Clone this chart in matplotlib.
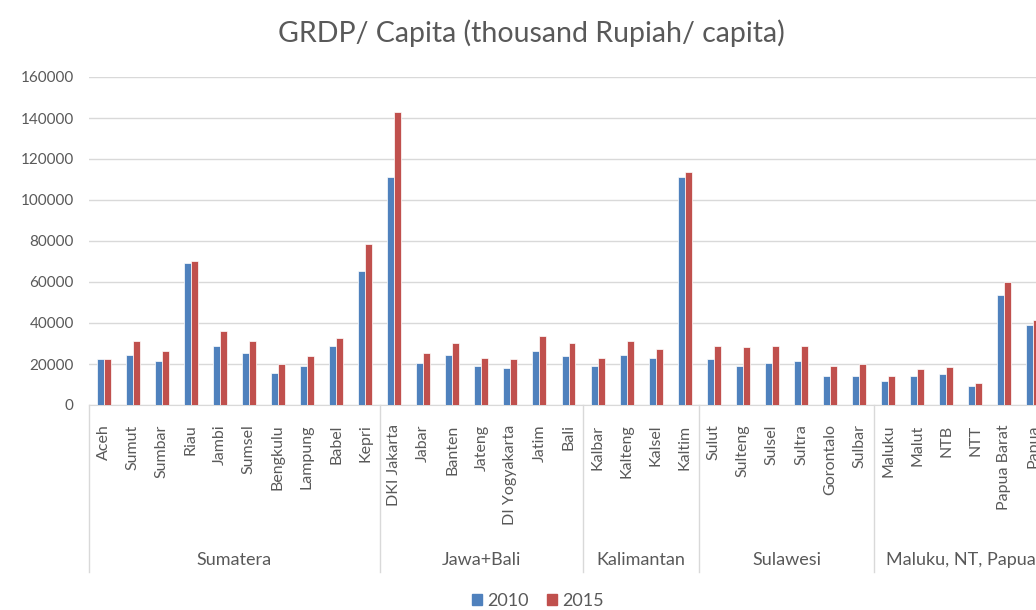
import numpy as np
import matplotlib
matplotlib.use("Agg")
import matplotlib.pyplot as plt
from matplotlib.patches import Patch
from matplotlib.transforms import blended_transform_factory

plt.rcParams['font.family'] = ['Lato', 'DejaVu Sans']

provinces = ["Aceh", "Sumut", "Sumbar", "Riau", "Jambi", "Sumsel", "Bengkulu", "Lampung", "Babel", "Kepri",
             "DKI Jakarta", "Jabar", "Banten", "Jateng", "DI Yogyakarta", "Jatim", "Bali",
             "Kalbar", "Kalteng", "Kalsel", "Kaltim",
             "Sulut", "Sulteng", "Sulsel", "Sultra", "Gorontalo", "Sulbar",
             "Maluku", "Malut", "NTB", "NTT", "Papua Barat", "Papua"]
groups = ["Sumatera", "Jawa+Bali", "Kalimantan", "Sulawesi", "Maluku, NT, Papua"]
group_sizes = [10, 7, 4, 6, 6]

grdp_2010 = [22200, 24600, 21400, 69500, 28700, 25400, 15700, 19000, 28700, 65500,
             111000, 20600, 24600, 19000, 18200, 26300, 23800,
             19000, 24600, 23000, 111000,
             22400, 19100, 20700, 21600, 14200, 14200,
             11800, 14200, 15000, 9300, 53600, 38900]
grdp_2015 = [22200, 31100, 26300, 70300, 36100, 31100, 19800, 23800, 32900, 78600,
             142900, 25400, 30300, 23000, 22200, 33500, 30300,
             23000, 31100, 27100, 113500,
             28900, 28100, 28900, 28900, 19100, 19900,
             14200, 17500, 18300, 10900, 60100, 41300]

blue = "#4F81BD"
red = "#C0504D"
txt = "#595959"
grid = "#D9D9D9"

fig = plt.figure(figsize=(10.36, 6.10), dpi=100)
# plot area runs a bit past the right edge, as in the cropped original
ax = fig.add_axes([89 / 1036, 1 - 405 / 610, 959 / 1036, 328 / 610])

x = np.arange(len(provinces))
w = 0.24
ax.bar(x - w / 2, grdp_2010, w, color=blue, edgecolor="white", linewidth=0.5, label="2010", zorder=3)
ax.bar(x + w / 2, grdp_2015, w, color=red, edgecolor="white", linewidth=0.5, label="2015", zorder=3)

ax.set_xlim(-0.5, len(provinces) - 0.5)
ax.set_ylim(0, 160000)
ax.set_yticks(np.arange(0, 160001, 20000))
ax.yaxis.grid(True, color=grid, linewidth=1)
ax.set_axisbelow(True)
for s in ["left", "right", "top"]:
    ax.spines[s].set_visible(False)
ax.spines["bottom"].set_color(grid)
ax.tick_params(axis="y", length=0, labelsize=11, labelcolor=txt, pad=11)
ax.set_xticks(x)
ax.set_xticklabels(provinces, rotation=90, fontsize=11.5, color=txt)
ax.tick_params(axis="x", length=0, pad=14)

# group boxes under the category labels
trans = blended_transform_factory(ax.transData, ax.transAxes)
edges = np.concatenate([[0], np.cumsum(group_sizes)]) - 0.5
for e in edges:
    ax.plot([e, e], [0, -0.51], transform=trans, color=grid, linewidth=1, clip_on=False)
for g, a, b in zip(groups, edges[:-1], edges[1:]):
    ax.text((a + b) / 2, -0.472, g, transform=trans, ha="center", va="center",
            fontsize=13, color=txt)

fig.text(0.513, 0.946, "GRDP/ Capita (thousand Rupiah/ capita)", ha="center", va="center",
         fontsize=20.5, color=txt)

handles = [Patch(color=blue, label="2010"), Patch(color=red, label="2015")]
fig.legend(handles=handles, loc="center", bbox_to_anchor=(0.519, 0.015), ncol=2, frameon=False,
           fontsize=13, labelcolor=txt, handlelength=0.55, handleheight=0.55,
           handletextpad=0.3, columnspacing=1.0)

fig.savefig("out.png", dpi=100)
